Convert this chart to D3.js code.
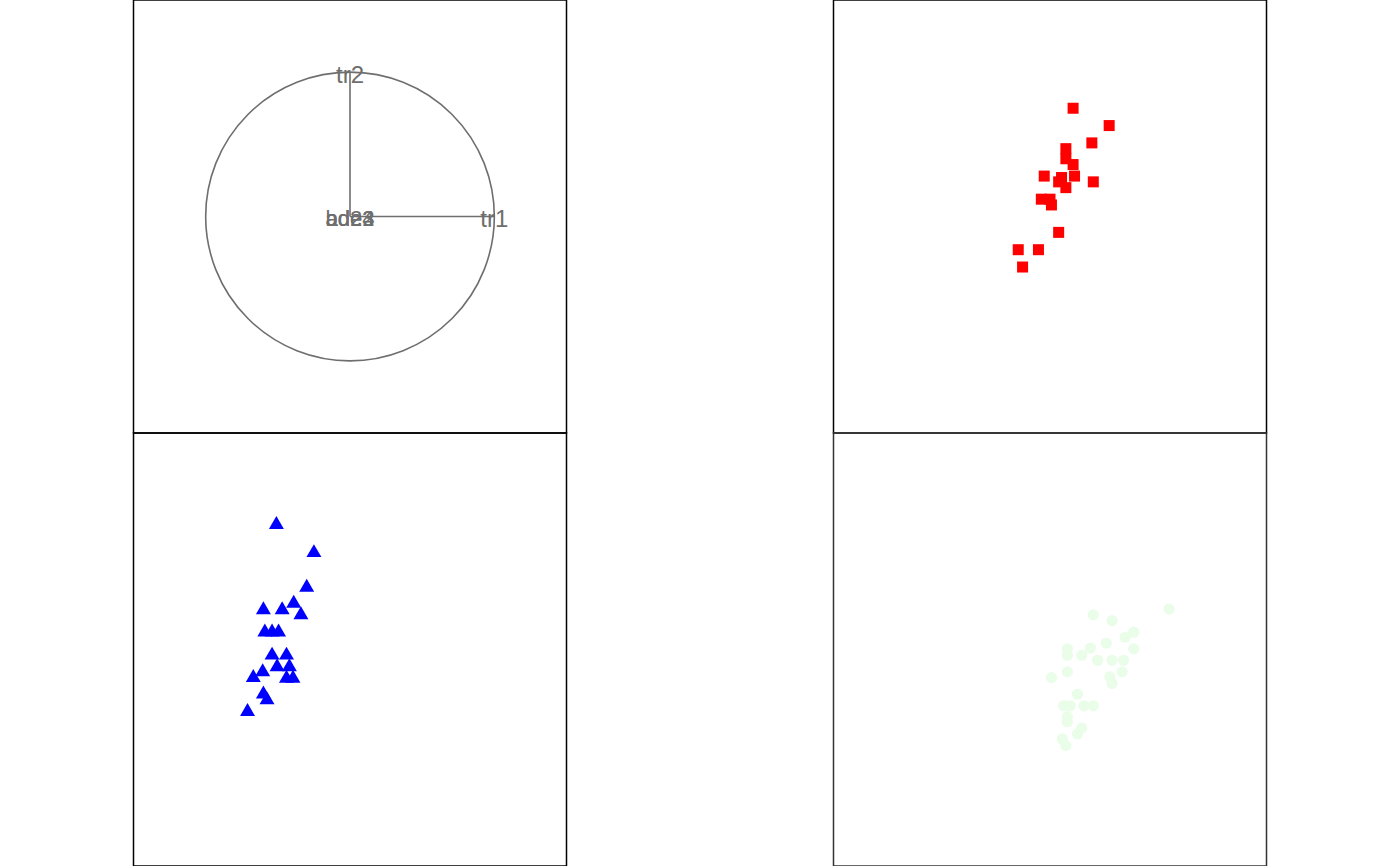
<!DOCTYPE html>
<html>
<head>
<meta charset="utf-8">
<script src="https://cdn.jsdelivr.net/npm/d3@7"></script>
<style>
  html, body { margin: 0; padding: 0; background: #fff; }
  svg { display: block; }
</style>
</head>
<body>
<svg id="chart" width="1400" height="866"></svg>
<script>
// Correlation circle variables
const varLabels = ["tr1", "tr2", "ade4", "bde2", "ad23"];
const varX = [1, 0, 0, 0, 0];
const varY = [0, 1, 0, 0, 0];

// Red squares (top-right)
const redX = [0.16, 0.41, 0.29, 0.11, 0.11, 0.16, 0.17, 0.08, 0.06, 0.11, -0.04, 0.30, -0.06, 0.00, 0.01, 0.06, -0.22, -0.08, -0.19];
const redY = [0.75, 0.63, 0.51, 0.47, 0.40, 0.36, 0.28, 0.27, 0.24, 0.20, 0.28, 0.24, 0.12, 0.12, 0.08, -0.11, -0.23, -0.23, -0.35];

// Blue triangles (bottom-left)
const blueX = [-0.51, -0.25, -0.30, -0.39, -0.60, -0.47, -0.34, -0.59, -0.54, -0.495, -0.54, -0.44, -0.505, -0.42, -0.605, -0.67, -0.44, -0.395, -0.60, -0.575, -0.71];
const blueY = [0.865, 0.67, 0.43, 0.32, 0.275, 0.275, 0.24, 0.12, 0.12, 0.12, -0.04, -0.04, -0.12, -0.12, -0.155, -0.195, -0.20, -0.20, -0.31, -0.35, -0.43];

// Light green circles (bottom-right)
const greenX = [0.825, 0.30, 0.43, 0.58, 0.52, 0.39, 0.12, 0.28, 0.22, 0.12, 0.58, 0.33, 0.43, 0.51, 0.50, 0.12, 0.415, 0.43, 0.01, 0.19, 0.095, 0.14, 0.235, 0.30, 0.12, 0.12, 0.22, 0.19, 0.085, 0.11];
const greenY = [0.28, 0.24, 0.20, 0.12, 0.085, 0.045, 0.005, 0.01, -0.04, -0.04, 0.005, -0.075, -0.075, -0.075, -0.155, -0.155, -0.19, -0.235, -0.195, -0.31, -0.39, -0.39, -0.39, -0.39, -0.465, -0.50, -0.545, -0.585, -0.62, -0.665];

const svg = d3.select("#chart");
const W = 1400, H = 866;
const side = H / 2;           // 433
const colW = W / 2;           // 700
const domain = [-1.5, 1.5];

function panel(col, row) {
  const x0 = col * colW + (colW - side) / 2;
  const y0 = row * side;
  const g = svg.append("g");
  const x = d3.scaleLinear().domain(domain).range([x0, x0 + side]);
  const y = d3.scaleLinear().domain(domain).range([y0 + side, y0]);
  return { g, x, y, x0, y0 };
}

const grey = "#6e6e6e";

// --- Panel 1: correlation circle
{
  const p = panel(0, 0);
  const cx = p.x(0), cy = p.y(0);
  const r = p.x(1) - p.x(0);
  p.g.append("circle")
    .attr("cx", cx).attr("cy", cy).attr("r", r)
    .attr("fill", "none").attr("stroke", grey).attr("stroke-width", 1.6);
  varLabels.forEach((lab, i) => {
    if (varX[i] !== 0 || varY[i] !== 0) {
      p.g.append("line")
        .attr("x1", cx).attr("y1", cy)
        .attr("x2", p.x(varX[i])).attr("y2", p.y(varY[i]))
        .attr("stroke", grey).attr("stroke-width", 1.6);
    }
  });
  varLabels.forEach((lab, i) => {
    p.g.append("text")
      .attr("x", p.x(varX[i])).attr("y", p.y(varY[i]))
      .attr("dy", "0.45em")
      .attr("text-anchor", "middle")
      .attr("font-family", "Liberation Sans, Arial, sans-serif")
      .attr("font-size", i < 2 ? 24 : 22)
      .attr("fill", grey)
      .text(lab);
  });
}

// --- Panel 2: red squares
{
  const p = panel(1, 0);
  const s = 11;
  p.g.selectAll("rect.pt").data(redX.map((v, i) => [v, redY[i]]))
    .join("rect")
    .attr("x", d => p.x(d[0]) - s / 2)
    .attr("y", d => p.y(d[1]) - s / 2)
    .attr("width", s).attr("height", s)
    .attr("fill", "#ff0000");
}

// --- Panel 3: blue triangles
{
  const p = panel(0, 1);
  const sym = d3.symbol().type(d3.symbolTriangle).size(97);
  p.g.selectAll("path.pt").data(blueX.map((v, i) => [v, blueY[i]]))
    .join("path")
    .attr("d", sym)
    .attr("transform", d => `translate(${p.x(d[0])},${p.y(d[1])})`)
    .attr("fill", "#0000ff");
}

// --- Panel 4: light green circles
{
  const p = panel(1, 1);
  p.g.selectAll("circle.pt").data(greenX.map((v, i) => [v, greenY[i]]))
    .join("circle")
    .attr("cx", d => p.x(d[0]))
    .attr("cy", d => p.y(d[1]))
    .attr("r", 5.6)
    .attr("fill", "#e9fde9");
}

// --- Panel borders
[[0, 0], [1, 0], [0, 1], [1, 1]].forEach(([c, r]) => {
  const x0 = c * colW + (colW - side) / 2;
  const y0 = r * side;
  svg.append("rect")
    .attr("x", x0).attr("y", y0)
    .attr("width", side).attr("height", side)
    .attr("fill", "none")
    .attr("stroke", r === 1 && c === 1 ? "#333" : "#000")
    .attr("stroke-width", 1.5);
});
</script>
</body>
</html>
